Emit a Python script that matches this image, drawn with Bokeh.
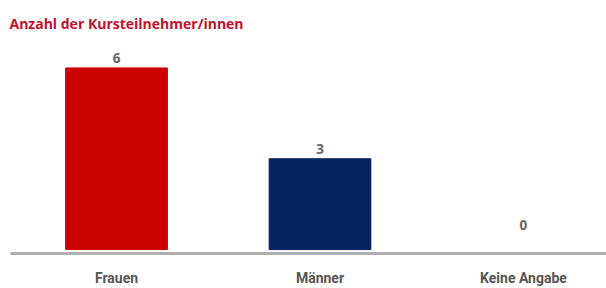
from bokeh.plotting import figure
from bokeh.models import ColumnDataSource, FixedTicker, Range1d
from bokeh.core.properties import value
from bokeh.embed import file_html
from bokeh.resources import INLINE

categories = ["Frauen", "Männer", "Keine Angabe"]
counts = [6, 3, 0]
colors = ["#cc0000", "#06225f", "#ffffff"]
title_text = "Anzahl der Kursteilnehmer/innen"

xs = list(range(len(categories)))
label_offsets = [-10 if c > 0 else -25 for c in counts]
src = ColumnDataSource(dict(x=xs, top=counts, color=colors,
                            label=[str(c) for c in counts], yoff=label_offsets))

p = figure(width=606, height=288, output_backend="svg", toolbar_location=None,
           x_range=Range1d(-0.521, 2.408), y_range=Range1d(-0.13, 7.17),
           min_border_left=10, min_border_right=0, min_border_top=32, min_border_bottom=0)

p.title.text = title_text
p.title.text_font = "Open Sans"
p.title.text_font_size = "14px"
p.title.text_font_style = "bold"
p.title.text_color = "#c3102c"
p.title.align = "left"
p.title.offset = -1
p.title.standoff = 0

p.vbar(x="x", top="top", bottom=0, width=0.5, color="color", source=src)
p.text(x="x", y="top", text="label", y_offset="yoff", source=src,
       text_align="center", text_baseline="alphabetic",
       text_font=value("Open Sans"), text_font_style="bold",
       text_font_size="13.5px", text_color="#666666")

p.grid.visible = False
p.yaxis.visible = False
p.outline_line_color = None
ax = p.xaxis[0]
ax.ticker = FixedTicker(ticks=xs)
ax.major_label_overrides = {i: c for i, c in enumerate(categories)}
ax.major_tick_line_color = None
ax.minor_tick_line_color = None
ax.axis_line_color = "#b0b0b0"
ax.axis_line_width = 3
ax.major_label_standoff = 10
ax.major_label_text_font = "Roboto"
ax.major_label_text_font_size = "14px"
ax.major_label_text_font_style = "bold"
ax.major_label_text_color = "#555555"
ax.major_label_text_line_height = 0.85

open("out.html", "w").write(file_html(p, INLINE))
